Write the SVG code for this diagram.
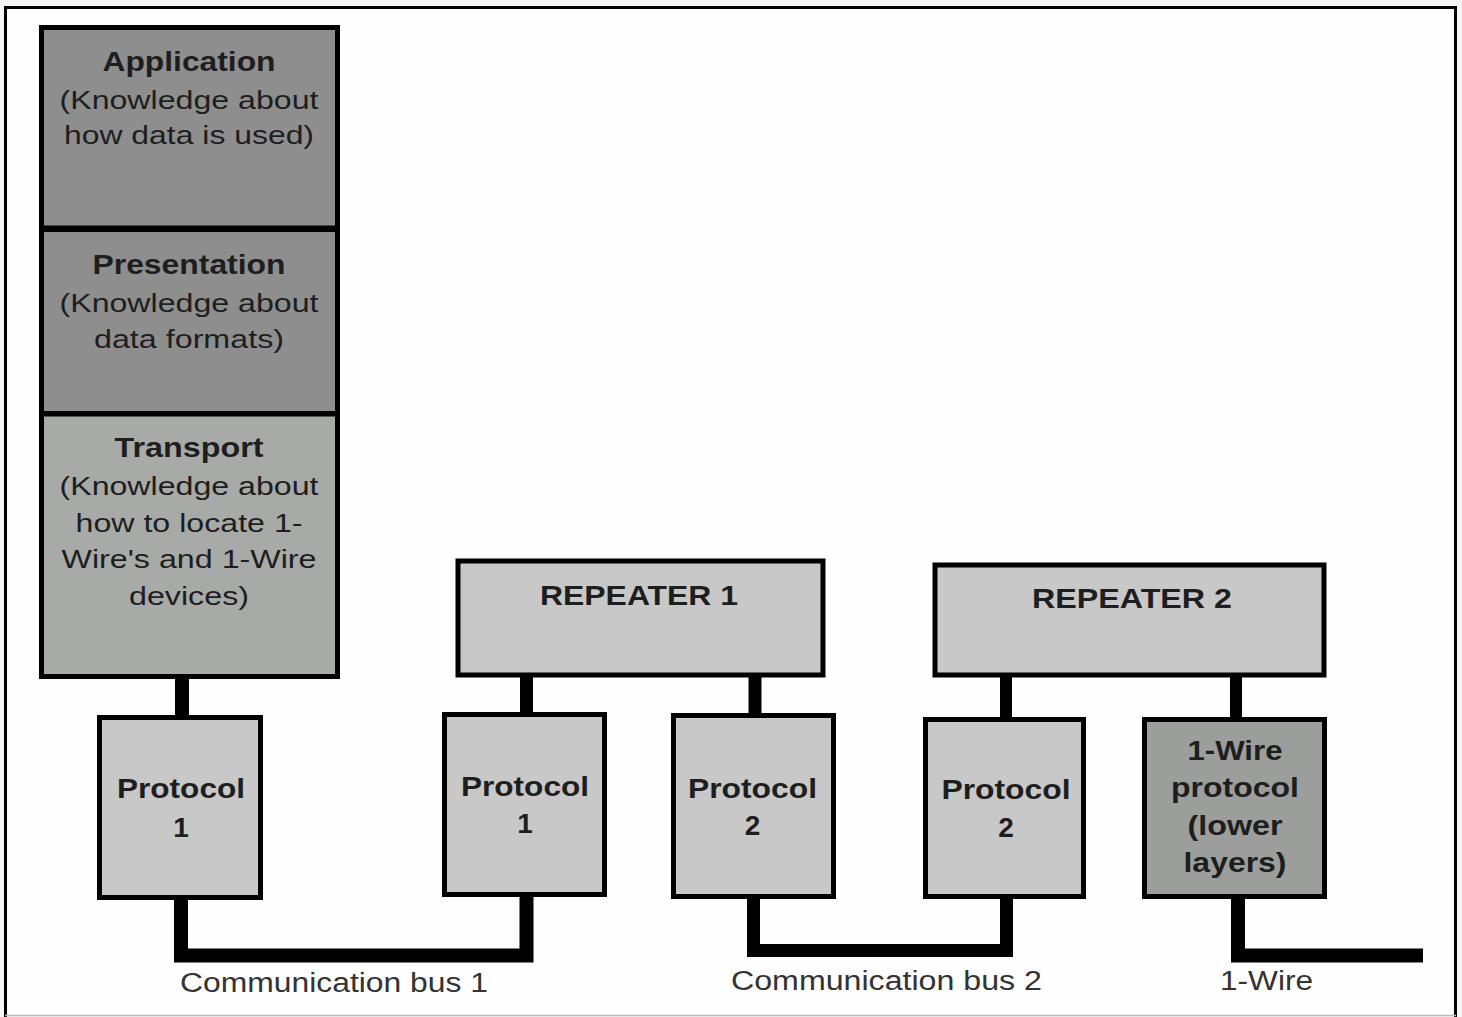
<svg xmlns="http://www.w3.org/2000/svg" width="1462" height="1017" viewBox="0 0 1462 1017">
<style>
.box{stroke:#000;stroke-width:5}
.dark{fill:#8e8e8e}
.mid{fill:#a8aaa8}
.light{fill:#c8c8c8}
.wire{fill:#9c9e9c}
.t{font-family:"Liberation Sans",Arial,sans-serif;fill:#1e1e1e;text-anchor:middle}
.b{font-weight:bold;font-size:28px}
.r{font-size:26px}
.lbl{font-family:"Liberation Sans",Arial,sans-serif;fill:#333;font-size:27px}
.conn{fill:none;stroke:#000;stroke-linejoin:miter}
</style>
<rect x="0" y="0" width="1462" height="1017" fill="#f6f6f6"/>
<rect x="5" y="7" width="1451" height="1009" fill="#fdfefd"/>
<path d="M5.5 1017 V7.5 H1455.5 V1017" fill="none" stroke="#000" stroke-width="3"/>
<line x1="5" y1="1015.5" x2="1456" y2="1015.5" stroke="#bbb" stroke-width="1.5"/>

<g id="connectors">
<line class="conn" x1="182" y1="676" x2="182" y2="718" stroke-width="14"/>
<line class="conn" x1="526.5" y1="674" x2="526.5" y2="715" stroke-width="13"/>
<line class="conn" x1="755" y1="674" x2="755" y2="716" stroke-width="13"/>
<line class="conn" x1="1006" y1="674" x2="1006" y2="720" stroke-width="12"/>
<line class="conn" x1="1236" y1="674" x2="1236" y2="720" stroke-width="12"/>
<path class="conn" d="M181 897 V955.5 H526.5 V894" stroke-width="14"/>
<path class="conn" d="M753.5 896 V950.5 H1006.5 V896" stroke-width="13"/>
<path class="conn" d="M1238 896 V955.5 H1423" stroke-width="14"/>
</g>

<g id="application">
<rect class="box dark" x="41.5" y="27.5" width="296" height="200.5"/>
<text class="t b" x="189" y="71" textLength="173" lengthAdjust="spacingAndGlyphs">Application</text>
<text class="t r" x="189" y="109" textLength="259" lengthAdjust="spacingAndGlyphs">(Knowledge about</text>
<text class="t r" x="189" y="144" textLength="250" lengthAdjust="spacingAndGlyphs">how data is used)</text>
</g>
<g id="presentation">
<rect class="box dark" x="41.5" y="229.5" width="296" height="184"/>
<text class="t b" x="189" y="274" textLength="193" lengthAdjust="spacingAndGlyphs">Presentation</text>
<text class="t r" x="189" y="312" textLength="259" lengthAdjust="spacingAndGlyphs">(Knowledge about</text>
<text class="t r" x="189" y="348" textLength="190" lengthAdjust="spacingAndGlyphs">data formats)</text>
</g>
<g id="transport">
<rect class="box mid" x="41.5" y="414" width="296" height="262.5"/>
<text class="t b" x="189" y="457" textLength="149" lengthAdjust="spacingAndGlyphs">Transport</text>
<text class="t r" x="189" y="495" textLength="259" lengthAdjust="spacingAndGlyphs">(Knowledge about</text>
<text class="t r" x="189" y="532" textLength="227" lengthAdjust="spacingAndGlyphs">how to locate 1-</text>
<text class="t r" x="189" y="568" textLength="255" lengthAdjust="spacingAndGlyphs">Wire's and 1-Wire</text>
<text class="t r" x="189" y="605" textLength="120" lengthAdjust="spacingAndGlyphs">devices)</text>
</g>

<g id="repeater1">
<rect class="box light" x="458" y="561" width="365" height="114" stroke-width="6"/>
<text class="t b" x="639" y="605" textLength="198" lengthAdjust="spacingAndGlyphs">REPEATER 1</text>
</g>
<g id="repeater2">
<rect class="box light" x="935" y="565" width="389" height="110" stroke-width="6"/>
<text class="t b" x="1132" y="608" textLength="200" lengthAdjust="spacingAndGlyphs">REPEATER 2</text>
</g>

<g id="protocol1-left">
<rect class="box light" x="99.5" y="717.5" width="161" height="180"/>
<text class="t b" x="181" y="798" textLength="128" lengthAdjust="spacingAndGlyphs">Protocol</text>
<text class="t b" x="181" y="837">1</text>
</g>
<g id="protocol1-mid">
<rect class="box light" x="444.5" y="714.5" width="160" height="180"/>
<text class="t b" x="525" y="796" textLength="128" lengthAdjust="spacingAndGlyphs">Protocol</text>
<text class="t b" x="525" y="833">1</text>
</g>
<g id="protocol2-mid">
<rect class="box light" x="673.5" y="715.5" width="160" height="181"/>
<text class="t b" x="752.5" y="798" textLength="129" lengthAdjust="spacingAndGlyphs">Protocol</text>
<text class="t b" x="752.5" y="835">2</text>
</g>
<g id="protocol2-right">
<rect class="box light" x="925.5" y="719.5" width="158" height="177"/>
<text class="t b" x="1006" y="799" textLength="129" lengthAdjust="spacingAndGlyphs">Protocol</text>
<text class="t b" x="1006" y="837">2</text>
</g>
<g id="onewire-protocol">
<rect class="box wire" x="1144.5" y="719.5" width="180" height="177"/>
<text class="t b" x="1235" y="760" textLength="95" lengthAdjust="spacingAndGlyphs">1-Wire</text>
<text class="t b" x="1235" y="797" textLength="128" lengthAdjust="spacingAndGlyphs">protocol</text>
<text class="t b" x="1235" y="835" textLength="95" lengthAdjust="spacingAndGlyphs">(lower</text>
<text class="t b" x="1235" y="872" textLength="103" lengthAdjust="spacingAndGlyphs">layers)</text>
</g>

<g id="labels">
<text class="lbl" x="180" y="992" textLength="308" lengthAdjust="spacingAndGlyphs">Communication bus 1</text>
<text class="lbl" x="731" y="990" textLength="311" lengthAdjust="spacingAndGlyphs">Communication bus 2</text>
<text class="lbl" x="1220" y="990" textLength="93" lengthAdjust="spacingAndGlyphs">1-Wire</text>
</g>
</svg>
